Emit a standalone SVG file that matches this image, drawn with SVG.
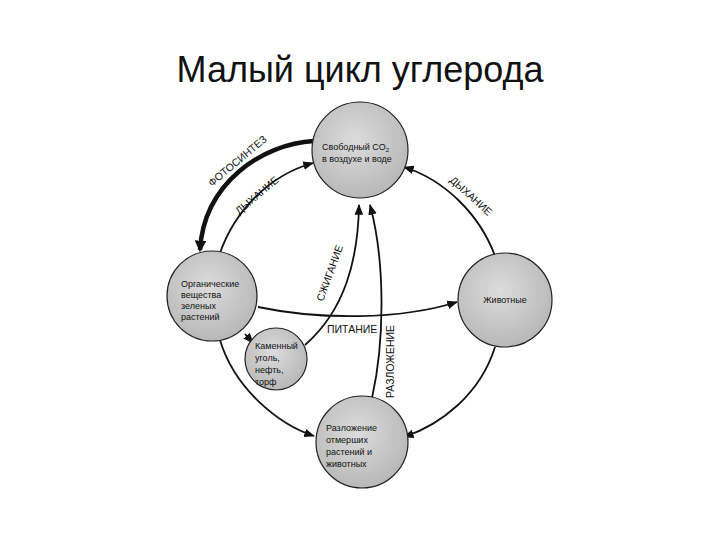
<svg xmlns="http://www.w3.org/2000/svg" width="720" height="540" viewBox="0 0 720 540">
<style>
.n{fill:url(#g);stroke:#222;stroke-width:1.2}
.t{font-family:"Liberation Sans",Arial,sans-serif;font-size:9px;fill:#111}
.l{font-family:"Liberation Sans",Arial,sans-serif;font-size:10.5px;fill:#111}
.c{fill:none;stroke:#111;stroke-width:1.8}
</style>
<defs>
<radialGradient id="g" cx="0.45" cy="0.4" r="0.6"><stop offset="0" stop-color="#dcdcdc"/><stop offset="1" stop-color="#b8b8b8"/></radialGradient>
<marker id="a" viewBox="0 0 10 10" refX="9" refY="5" markerWidth="6" markerHeight="6" orient="auto"><path d="M0,1L10,5L0,9z" fill="#111"/></marker>
<marker id="b" viewBox="0 0 10 10" refX="8" refY="5" markerWidth="2.6" markerHeight="2.6" orient="auto"><path d="M0,0L10,5L0,10z" fill="#111"/></marker>
</defs>
<rect width="720" height="540" fill="#fff"/>
<text x="360" y="82" text-anchor="middle" font-family="Liberation Sans,Arial,sans-serif" font-size="36" fill="#111">Малый цикл углерода</text>
<g id="connectors">
<path class="c" d="M314,141 C262,144 204,183 200,250" style="stroke-width:4.5" marker-end="url(#b)"/>
<path class="c" d="M220,253 C235,210 270,175 313,163" marker-end="url(#a)"/>
<path class="c" d="M495,256 C480,215 445,180 404,167" marker-end="url(#a)"/>
<path class="c" d="M258,307 C320,320 400,320 457,302" marker-end="url(#a)"/>
<path class="c" d="M245,334 L253,343" marker-end="url(#a)"/>
<path class="c" d="M305,345 C345,310 358,260 359,205" marker-end="url(#a)"/>
<path class="c" d="M372,398 C385,340 385,260 370,205" marker-end="url(#a)"/>
<path class="c" d="M220,340 C235,390 280,425 314,436" marker-end="url(#a)"/>
<path class="c" d="M495,347 C480,395 440,425 404,437" marker-end="url(#a)"/>
</g>
<g id="labels">
<text class="l" transform="translate(212,187) rotate(-40)">ФОТОСИНТЕЗ</text>
<text class="l" transform="translate(239,215) rotate(-40)">ДЫХАНИЕ</text>
<text class="l" transform="translate(449,181) rotate(42)">ДЫХАНИЕ</text>
<text class="l" transform="translate(323,302) rotate(-70)">СЖИГАНИЕ</text>
<text class="l" transform="translate(394,398) rotate(-90)">РАЗЛОЖЕНИЕ</text>
<text class="l" x="327" y="333">ПИТАНИЕ</text>
</g>
<g id="co2"><circle class="n" cx="360" cy="150" r="48"/>
<text class="t" x="322" y="150">Свободный СО<tspan font-size="6" dy="2">2</tspan></text>
<text class="t" x="322" y="162">в воздухе и  воде</text></g>
<g id="organic"><circle class="n" cx="212" cy="296" r="45"/>
<text class="t" x="181" y="287">Органические</text><text class="t" x="181" y="298">вещества</text><text class="t" x="181" y="309">зеленых</text><text class="t" x="181" y="320">растений</text></g>
<g id="animals"><circle class="n" cx="505" cy="300" r="47"/>
<text class="t" x="505" y="303" text-anchor="middle">Животные</text></g>
<g id="coal"><circle class="n" cx="276" cy="359" r="31"/>
<text class="t" x="255" y="349">Каменный</text><text class="t" x="255" y="361">уголь,</text><text class="t" x="255" y="373">нефть,</text><text class="t" x="255" y="385">торф</text></g>
<g id="decomp"><circle class="n" cx="362" cy="442" r="46"/>
<text class="t" x="326" y="431">Разложение</text><text class="t" x="326" y="443">отмерших</text><text class="t" x="326" y="455">растений и</text><text class="t" x="326" y="467">животных</text></g>
</svg>
